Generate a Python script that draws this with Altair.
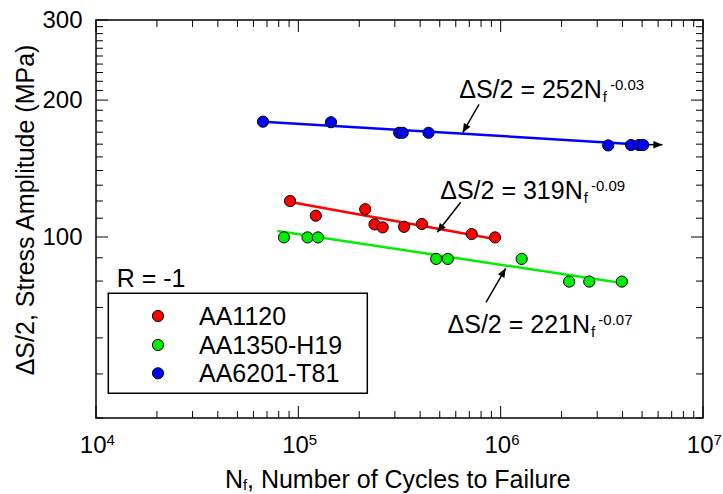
import math
import altair as alt
import pandas as pd

FONT = "Liberation Sans"

# ---------------- data ----------------
series = ["AA1120", "AA1350-H19", "AA6201-T81"]
colors = ["#FF0000", "#00EE00", "#0000FF"]

aa1120_n = [91000, 122000, 214000, 238000, 261000, 333000, 408000, 719000, 938000]
aa1120_s = [120.0, 111.4, 115.1, 106.6, 105.0, 105.3, 106.8, 101.5, 99.8]

aa1350_n = [84900, 111000, 125000, 480000, 548000, 1270000, 2180000, 2740000, 3970000]
aa1350_s = [99.8, 99.8, 99.8, 89.5, 89.5, 89.5, 79.8, 79.8, 79.8]

aa6201_n = [66900, 145000, 315000, 328000, 440000, 3400000, 4410000, 4830000, 5060000]
aa6201_s = [179.3, 178.8, 169.5, 169.5, 169.5, 159.0, 159.3, 159.3, 159.3]

# fitted power-law lines (end points)
fit_aa1120_n = [92700, 993000]
fit_aa1120_s = [119.2, 98.5]
fit_aa1350_n = [78800, 4050000]
fit_aa1350_s = [103.1, 79.1]
fit_aa6201_n = [66900, 5060000]
fit_aa6201_s = [179.3, 159.6]

# run-out arrow on the last AA6201-T81 point
runout_n = [5060000, 6300000]
runout_s = [159.6, 159.6]

equations = ["ΔS/2 = 252N", "ΔS/2 = 319N", "ΔS/2 = 221N"]
exponents = ["-0.03", "-0.09", "-0.07"]

x_major = [1e4, 1e5, 1e6, 1e7]
x_minor = [k * 10 ** d for d in (4, 5, 6) for k in range(2, 10)]
x_label_base = ["10", "10", "10", "10"]
x_label_exp = ["4", "5", "6", "7"]

y_labels = [100, 200, 300]
y_minor = [40, 50, 60, 70, 80, 90] + list(range(110, 200, 10)) + list(range(210, 300, 10))

# ---------------- layout ----------------
W, H = 607, 398
MAJ, MIN = 12, 7
ARROW = "M0,0 L0.42,1 L-0.42,1 Z"

xscale = alt.Scale(type="log", domain=[1e4, 1e7], nice=False)
yscale = alt.Scale(type="log", domain=[40, 300], nice=False)
yaxis = alt.Axis(values=y_labels, format="d", ticks=False, domain=False, grid=False,
                 labelFontSize=24, labelPadding=14, labelColor="black", labelFont=FONT,
                 title="ΔS/2, Stress Amplitude (MPa)", titleFont=FONT, titleFontSize=25,
                 titleFontWeight="normal", titleColor="black", titleAngle=-90,
                 titleAlign="center", titleBaseline="alphabetic", titleX=-63, titleY=189.5)


def X(field="N"):
    return alt.X(f"{field}:Q", scale=xscale, axis=None)


def Y(field="S"):
    return alt.Y(f"{field}:Q", scale=yscale, axis=yaxis)


color = alt.Color("series:N", scale=alt.Scale(domain=series, range=colors), legend=None)

pts_rows, fit_rows = [], []
for name, ns, ss, fn, fs in zip(series,
                                [aa1120_n, aa1350_n, aa6201_n],
                                [aa1120_s, aa1350_s, aa6201_s],
                                [fit_aa1120_n, fit_aa1350_n, fit_aa6201_n],
                                [fit_aa1120_s, fit_aa1350_s, fit_aa6201_s]):
    for n, s in zip(ns, ss):
        pts_rows.append({"series": name, "N": n, "S": s})
    for n, s in zip(fn, fs):
        fit_rows.append({"series": name, "N": n, "S": s})
pts = pd.DataFrame(pts_rows)
fit = pd.DataFrame(fit_rows)

layers = []

# ticks (inward) on all four sides
def xticks(values, length):
    d = pd.DataFrame({"N": values})
    bottom = alt.Chart(d).mark_rule(color="black", strokeWidth=1).encode(
        x=X(), y=alt.value(H), y2=alt.value(H - length))
    top = alt.Chart(d).mark_rule(color="black", strokeWidth=1).encode(
        x=X(), y=alt.value(0), y2=alt.value(length))
    return [bottom, top]


def yticks(values, length):
    d = pd.DataFrame({"S": values})
    left = alt.Chart(d).mark_rule(color="black", strokeWidth=1).encode(
        y=Y(), x=alt.value(0), x2=alt.value(length))
    right = alt.Chart(d).mark_rule(color="black", strokeWidth=1).encode(
        y=Y(), x=alt.value(W), x2=alt.value(W - length))
    return [left, right]


layers += xticks(x_major, MAJ) + xticks(x_minor, MIN)
layers += yticks(y_labels, MAJ) + yticks(y_minor, MIN)

# x tick labels 10^k
xl = pd.DataFrame({"N": x_major, "base": x_label_base, "exp": x_label_exp})
layers.append(alt.Chart(xl).mark_text(align="right", baseline="alphabetic", fontSize=24,
                                      font=FONT, color="black", dx=10.5).encode(
    x=X(), y=alt.value(433.3), text="base:N"))
layers.append(alt.Chart(xl).mark_text(align="left", baseline="alphabetic", fontSize=15,
                                      font=FONT, color="black", dx=10.5).encode(
    x=X(), y=alt.value(425), text="exp:N"))

# fit lines
layers.append(alt.Chart(fit).mark_line(strokeWidth=2.5).encode(
    x=X(), y=Y(), color=color, detail="series:N"))

# run-out arrow
ro = pd.DataFrame({"N": runout_n, "S": runout_s})
layers.append(alt.Chart(ro).mark_line(color="black", strokeWidth=1.5).encode(x=X(), y=Y()))
layers.append(alt.Chart(ro.tail(1)).mark_point(shape=ARROW, filled=True, color="black",
                                               size=324, angle=90, opacity=1,
                                               strokeWidth=0).encode(x=X(), y=Y()))

# data points
layers.append(alt.Chart(pts).mark_circle(size=125, opacity=1, stroke="black",
                                         strokeWidth=1).encode(x=X(), y=Y(), color=color))


def txt(s, px, py, size=25, align="left"):
    return alt.Chart(pd.DataFrame({"t": [s]})).mark_text(
        align=align, baseline="alphabetic", fontSize=size, color="black", font=FONT).encode(
        x=alt.value(px), y=alt.value(py), text="t:N")


def arrow(x0, y0, x1, y1):
    ang = math.degrees(math.atan2(x1 - x0, -(y1 - y0))) % 360
    d = pd.DataFrame({"a": [0]})
    shaft = alt.Chart(d).mark_rule(color="black", strokeWidth=1.5).encode(
        x=alt.value(x0), y=alt.value(y0), x2=alt.value(x1), y2=alt.value(y1))
    head = alt.Chart(d).mark_point(shape=ARROW, filled=True, color="black", size=324,
                                   angle=ang, opacity=1, strokeWidth=0).encode(
        x=alt.value(x1), y=alt.value(y1))
    return [shaft, head]


# equations
eq_pos = [(505.7, 78.3), (486.7, 179.0), (494.0, 313.3)]
for eq, ex, (ex_, ey) in zip(equations, exponents, eq_pos):
    layers.append(txt(eq, ex_, ey, 25, "right"))
    layers.append(txt("f", ex_ + 1.0, ey + 3.5, 15))
    layers.append(txt(ex, ex_ + 8.3, ey - 8.5, 15))

layers += arrow(383.0, 84.3, 366.7, 112.7)
layers += arrow(364.7, 182.3, 341.3, 212.3)
layers += arrow(390.0, 282.3, 409.7, 248.3)

# x axis title with subscript
layers.append(txt("N", 129.0, 468.3, 25))
layers.append(txt("f", 147.0, 470.0, 15))
layers.append(txt(", Number of Cycles to Failure", 151.0, 468.3, 25))

# R = -1 and legend
layers.append(txt("R = -1", 20.7, 267.3, 25))
layers.append(alt.Chart(pd.DataFrame({"a": [0]})).mark_rect(
    fill="white", stroke="black", strokeWidth=1.5).encode(
    x=alt.value(12.3), x2=alt.value(271.3), y=alt.value(273.3), y2=alt.value(373.3)))
leg_y = [296.0, 325.0, 353.3]
for name, ly in zip(series, leg_y):
    layers.append(alt.Chart(pd.DataFrame({"series": [name]})).mark_circle(
        size=125, opacity=1, stroke="black", strokeWidth=1).encode(
        x=alt.value(62), y=alt.value(ly), color=color))
    layers.append(txt(name, 103.0, ly + 8.5, 25))

chart = alt.layer(*layers).properties(
    width=W, height=H,
    padding={"left": 96, "top": 20, "right": 20, "bottom": 76},
    autosize=alt.AutoSizeParams(type="none"),
    background="white",
).configure(font=FONT).configure_view(stroke="black", strokeWidth=1.5)

chart.save("out.html", embed_options={"renderer": "svg", "actions": False})
